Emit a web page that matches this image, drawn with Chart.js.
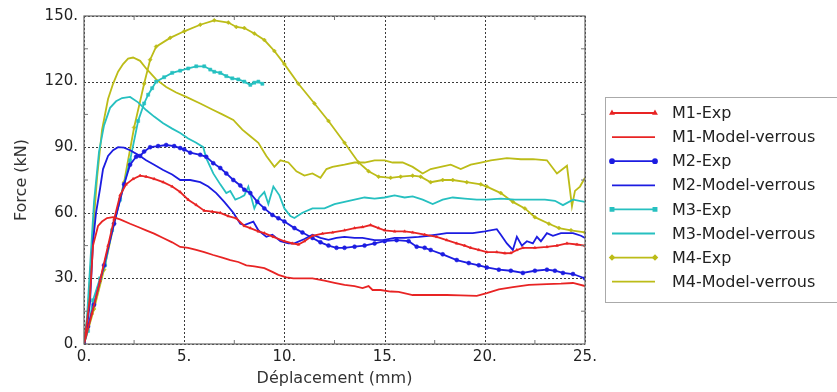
<!DOCTYPE html>
<html>
<head>
<meta charset="utf-8">
<script src="https://cdn.jsdelivr.net/npm/chart.js@4.4.1/dist/chart.umd.min.js"></script>
<style>
  html, body { margin: 0; padding: 0; background: #fff; }
  #wrap { position: relative; width: 837px; height: 392px; }
</style>
</head>
<body>
<div id="wrap"><canvas id="forceChart" width="837" height="392"></canvas></div>
<script>
// Force vs déplacement, M1..M4 (essais + modèle verrous)
const xTicks = [0, 5, 10, 15, 20, 25];
const yTicks = [0, 30, 60, 90, 120, 150];

const m1Exp = [[0,0],[0.4,14],[0.8,29],[1.2,45],[1.5,57],[1.8,68],[2.1,73],[2.45,75.5],[2.8,77],[3.1,76.5],[3.5,75.5],[3.95,74],[4.4,72],[4.8,69.5],[5.2,66],[5.6,63.6],[6.0,61],[6.4,60.5],[6.8,60],[7.2,58.5],[7.6,57.5],[8.0,54],[8.3,53],[8.7,51.5],[9.0,50.7],[9.45,49],[10.0,47],[10.4,46],[10.7,45.5],[11.0,47],[11.4,49.5],[11.9,50.5],[12.4,51],[13.0,52],[13.5,53],[13.9,53.5],[14.3,54.4],[14.7,53],[15.0,52],[15.5,51.5],[16.0,51.5],[16.4,51],[17.0,50],[17.6,49],[18.1,47.5],[18.6,46],[19.0,45],[19.3,44],[19.7,43],[20.1,42],[20.6,42],[21.0,41.5],[21.3,41.6],[21.6,43],[21.9,44],[22.5,44],[23.1,44.4],[23.6,45],[24.1,46],[24.6,45.5],[25,45]];
const m1Model = [[0,0],[0.15,10],[0.3,22],[0.45,45],[0.7,54],[0.9,56],[1.15,57.6],[1.45,58],[1.8,57],[2.3,55],[2.7,53.5],[3.1,52],[3.5,50.5],[3.95,48.5],[4.4,46.5],[4.8,44.4],[5.2,44],[5.6,43],[6.0,42],[6.45,40.7],[6.9,39.5],[7.3,38.4],[7.7,37.5],[8.1,36],[8.5,35.5],[9.0,34.7],[9.4,33],[9.7,31.6],[10.1,30.5],[10.45,30],[11.0,30],[11.4,30],[12.0,29],[12.5,28],[13.0,27],[13.5,26.5],[13.9,25.6],[14.2,26.5],[14.4,24.7],[14.8,24.7],[15.3,24],[15.7,23.8],[16.4,22.4],[17.2,22.4],[18.1,22.4],[18.8,22.2],[19.6,22],[20.1,23.3],[20.7,25],[21.4,26],[22.2,27],[23.1,27.4],[23.8,27.6],[24.4,27.9],[25,26.5]];

const m2Exp = [[0,0],[0.2,8],[0.5,18],[1,36],[1.5,55],[2,73],[2.3,82],[2.6,85.6],[2.8,86],[3.0,88],[3.3,90],[3.7,90.5],[4.1,91],[4.5,90.5],[4.8,89.6],[5.0,89],[5.3,87.5],[5.8,86.5],[6.1,85.6],[6.45,82.7],[6.8,80.5],[7.1,78],[7.45,75],[7.8,72.5],[8.0,70.5],[8.3,69],[8.65,65],[9.0,62],[9.4,59],[9.7,57.5],[10.0,56],[10.5,53],[10.9,51],[11.4,48.5],[11.8,46.5],[12.2,45],[12.6,44],[13.0,44],[13.5,44.5],[14.0,45],[14.5,46],[15.0,47],[15.6,47.5],[16.2,47],[16.6,44.5],[17.0,44],[17.3,43],[17.9,41],[18.6,38.4],[19.2,37],[19.7,36],[20.1,35],[20.7,34],[21.3,33.5],[21.9,32.5],[22.5,33.5],[23.1,34],[23.5,33.5],[23.9,32.5],[24.4,32],[25,30]];
const m2Model = [[0,0],[0.15,8],[0.3,19],[0.45,46.6],[0.6,60],[0.8,71],[0.95,80],[1.2,86],[1.45,88.6],[1.7,90],[2.0,89.8],[2.3,88.6],[2.7,86.5],[3.1,84],[3.5,82],[3.95,79.6],[4.4,77.5],[4.8,75],[5.3,75],[5.8,74],[6.2,72],[6.6,69],[7.0,65],[7.45,60],[7.8,55],[8.0,54.4],[8.45,56],[8.7,52],[9.1,49],[9.4,50],[9.8,47],[10.2,46],[10.5,46],[11.0,48],[11.4,50],[11.8,48.5],[12.2,47.6],[12.6,48.5],[13.0,49],[13.5,48.5],[13.9,48.5],[14.5,47.5],[15.0,47.6],[15.5,48.5],[16.0,48.5],[16.7,49],[17.2,49.5],[17.6,50],[18.1,50.7],[18.8,50.7],[19.4,50.7],[20.0,51.5],[20.6,52.5],[20.8,50],[21.1,46],[21.4,43],[21.6,49],[21.85,45],[22.1,47],[22.4,46],[22.6,49],[22.8,47],[23.1,50.7],[23.4,49.5],[23.8,50.7],[24.4,50.7],[24.8,49.5],[25,48.5]];

const m3Exp = [[0,0],[0.2,6],[0.45,20],[0.8,30],[1.05,36],[1.4,52],[1.8,66],[2.3,84],[2.7,102],[3.0,110],[3.2,114],[3.4,117],[3.6,120],[4.0,122],[4.4,124],[4.8,125],[5.2,126],[5.6,127],[6.0,127],[6.3,125.5],[6.5,124.5],[6.8,124],[7.1,122.5],[7.4,121.5],[7.7,121],[8.0,120],[8.3,118.5],[8.5,119.5],[8.7,120],[8.9,119]];
const m3Model = [[0,0],[0.15,12],[0.3,35],[0.5,65],[0.75,88],[1.0,100],[1.3,108],[1.6,111],[1.9,112.5],[2.3,113],[2.7,110.5],[3.1,107],[3.5,104],[3.95,101],[4.4,98.5],[4.8,96.5],[5.2,94],[5.6,92],[5.95,90],[6.1,85],[6.45,78],[6.8,73],[7.1,69],[7.3,70],[7.55,66],[7.8,67],[8.0,68],[8.2,72],[8.5,62],[8.75,67],[9.0,69.5],[9.2,64],[9.45,72],[9.75,68],[10.0,62],[10.3,58.5],[10.5,57.6],[10.9,60],[11.4,62],[12.0,62],[12.5,64],[13.0,65],[13.5,66],[14.0,67],[14.5,66.5],[15.0,67],[15.5,68],[16.0,67],[16.4,67.5],[16.9,66],[17.4,64],[17.9,66],[18.4,67],[19.0,66.5],[19.6,66],[20.1,66],[20.8,66.5],[21.5,66],[22.3,66],[23.0,66],[23.5,65.5],[23.9,63.5],[24.4,66],[25,65]];

const m4Exp = [[0,0],[0.5,16],[1,34],[1.5,55],[2,74],[2.5,99],[3,119],[3.3,130],[3.6,136],[4.3,140],[5,143],[5.8,146],[6.5,148],[7.2,147],[7.6,145],[8.0,144.5],[8.5,142],[9.0,139],[9.5,134],[10.0,128],[10.7,119],[11.5,110],[12.2,102],[13.0,92],[13.7,83],[14.2,79],[14.7,76.5],[15.3,76],[15.8,76.5],[16.4,77],[16.8,76.5],[17.3,74],[17.9,75],[18.4,75],[19.1,74],[19.8,73],[20.1,72],[20.8,69],[21.4,65],[22,62],[22.5,58],[23.2,55],[23.7,53],[24.3,52],[25,51]];
const m4Model = [[0,0],[0.2,15],[0.4,45],[0.65,76],[0.9,98],[1.2,112],[1.45,119],[1.7,124.5],[1.95,128],[2.2,130.5],[2.45,131],[2.8,129.5],[3.1,126],[3.6,121],[4.1,117.5],[4.6,115],[5.1,113],[5.8,110],[6.45,107],[6.9,105],[7.45,102.5],[7.9,98],[8.3,95],[8.7,92],[9.1,86],[9.5,81],[9.8,84],[10.2,83],[10.6,79],[11.0,77],[11.4,78],[11.8,76],[12.1,80],[12.4,81],[13.0,82],[13.5,83],[14.0,83],[14.5,84],[15.0,84],[15.4,83],[15.9,83],[16.4,81],[16.9,78],[17.3,80],[17.8,81],[18.3,82],[18.8,80],[19.3,82],[19.8,83],[20.3,84],[21.1,85],[21.8,84.5],[22.4,84.5],[23.1,84],[23.6,78],[24.1,81.5],[24.35,63],[24.5,70],[24.75,72],[25,76]];

const RED = "rgb(232,36,36)";
const BLUE = "rgb(28,28,225)";
const CYAN = "rgb(38,192,192)";
const OLIVE = "rgb(188,188,24)";

function pts(arr) {
  return arr.map(p => ({ x: p[0], y: p[1] }));
}

function expSet(label, arr, color, style, r) {
  return { label, data: pts(arr), borderColor: color, backgroundColor: color, borderWidth: 1.8,
    pointStyle: style, pointRadius: r, pointBorderWidth: 0.5, pointHoverRadius: r, tension: 0 };
}
function modelSet(label, arr, color) {
  return { label, data: pts(arr), borderColor: color, backgroundColor: color, borderWidth: 1.8,
    pointRadius: 0, tension: 0 };
}

const datasets = [
  expSet("M1-Exp", m1Exp, RED, "triangle", 1.6),
  modelSet("M1-Model-verrous", m1Model, RED),
  expSet("M2-Exp", m2Exp, BLUE, "circle", 2),
  modelSet("M2-Model-verrous", m2Model, BLUE),
  expSet("M3-Exp", m3Exp, CYAN, "rect", 2.2),
  modelSet("M3-Model-verrous", m3Model, CYAN),
  expSet("M4-Exp", m4Exp, OLIVE, "rectRot", 2),
  modelSet("M4-Model-verrous", m4Model, OLIVE),
];

// grille pointillée (sous les courbes)
const gridPlugin = {
  id: "dotGrid",
  beforeDatasetsDraw(chart) {
    const { ctx, chartArea: a, scales } = chart;
    ctx.save();
    ctx.strokeStyle = "#3a3a3a";
    ctx.lineWidth = 1;
    ctx.setLineDash([2, 2]);
    ctx.beginPath();
    xTicks.forEach(v => {
      const px = Math.round(scales.x.getPixelForValue(v)) + 0.5;
      ctx.moveTo(px, a.top); ctx.lineTo(px, a.bottom);
    });
    yTicks.forEach(v => {
      const py = Math.round(scales.y.getPixelForValue(v)) + 0.5;
      ctx.moveTo(a.left, py); ctx.lineTo(a.right, py);
    });
    ctx.stroke();
    ctx.restore();
  },
};

// cadre + petites graduations (tous les 2.5 mm / 15 kN)
const framePlugin = {
  id: "frame",
  afterDraw(chart) {
    const { ctx, chartArea: a, scales } = chart;
    ctx.save();
    ctx.strokeStyle = "#666";
    ctx.lineWidth = 1.2;
    ctx.setLineDash([]);
    ctx.strokeRect(a.left, a.top, a.right - a.left, a.bottom - a.top);
    ctx.lineWidth = 1;
    ctx.strokeStyle = "#777";
    ctx.beginPath();
    for (let v = 2.5; v < 25; v += 5) {
      const px = scales.x.getPixelForValue(v);
      ctx.moveTo(px, a.bottom); ctx.lineTo(px, a.bottom - 4);
      ctx.moveTo(px, a.top); ctx.lineTo(px, a.top + 4);
    }
    for (let v = 15; v < 150; v += 30) {
      const py = scales.y.getPixelForValue(v);
      ctx.moveTo(a.left, py); ctx.lineTo(a.left + 4, py);
      ctx.moveTo(a.right, py); ctx.lineTo(a.right - 4, py);
    }
    ctx.stroke();
    ctx.restore();
  },
};

// légende à droite, dans un cadre gris
const legendPlugin = {
  id: "boxLegend",
  afterDraw(chart) {
    const { ctx } = chart;
    const left = 605, top = 97, bottom = 302, step = 24.1, y0 = 113;
    ctx.save();
    ctx.strokeStyle = "#aaa";
    ctx.lineWidth = 1;
    ctx.strokeRect(left + 0.5, top + 0.5, 840 - left, bottom - top);
    ctx.font = "16px 'DejaVu Sans'";
    ctx.textBaseline = "middle";
    ctx.fillStyle = "#222";
    chart.data.datasets.forEach((ds, i) => {
      const y = y0 + i * step;
      ctx.strokeStyle = ds.borderColor;
      ctx.lineWidth = ds.borderWidth;
      ctx.beginPath();
      ctx.moveTo(612, y); ctx.lineTo(655, y);
      ctx.stroke();
      if (ds.pointRadius > 0) {
        const opt = { pointStyle: ds.pointStyle, radius: ds.pointRadius, borderWidth: 0.5, rotation: 0 };
        ctx.fillStyle = ds.backgroundColor;
        Chart.helpers.drawPoint(ctx, opt, 612, y);
        Chart.helpers.drawPoint(ctx, opt, 655, y);
      }
      ctx.fillStyle = "#222";
      ctx.fillText(ds.label, 672, y + 1);
    });
    ctx.restore();
  },
};

const tickFont = { family: "'DejaVu Sans'", size: 15 };
const titleFont = { family: "'DejaVu Sans'", size: 16 };

new Chart(document.getElementById("forceChart"), {
  type: "line",
  data: { datasets },
  options: {
    responsive: false,
    animation: false,
    events: [],
    layout: { padding: { left: 0, top: 16, right: 252, bottom: 4 } },
    plugins: { legend: { display: false }, tooltip: { enabled: false } },
    scales: {
      x: {
        type: "linear",
        min: 0, max: 25,
        afterBuildTicks: (s) => { s.ticks = xTicks.map(v => ({ value: v })); },
        afterFit: (s) => { s.height = 44; },
        ticks: { color: "#222", font: tickFont, padding: 4, maxRotation: 0, callback: (v) => v + "." },
        grid: { display: false, drawTicks: false },
        border: { display: false },
        title: { display: true, text: "Déplacement (mm)", color: "#333", font: titleFont, padding: { top: 0, bottom: 0 } },
      },
      y: {
        min: 0, max: 150,
        afterBuildTicks: (s) => { s.ticks = yTicks.map(v => ({ value: v })); },
        afterFit: (s) => { s.width = 84; },
        ticks: { color: "#222", font: tickFont, padding: 6, callback: (v) => v + "." },
        grid: { display: false, drawTicks: false },
        border: { display: false },
        title: { display: true, text: "Force (kN)", color: "#333", font: titleFont, padding: { top: 12, bottom: 0 } },
      },
    },
  },
  plugins: [gridPlugin, framePlugin, legendPlugin],
});
</script>
</body>
</html>
